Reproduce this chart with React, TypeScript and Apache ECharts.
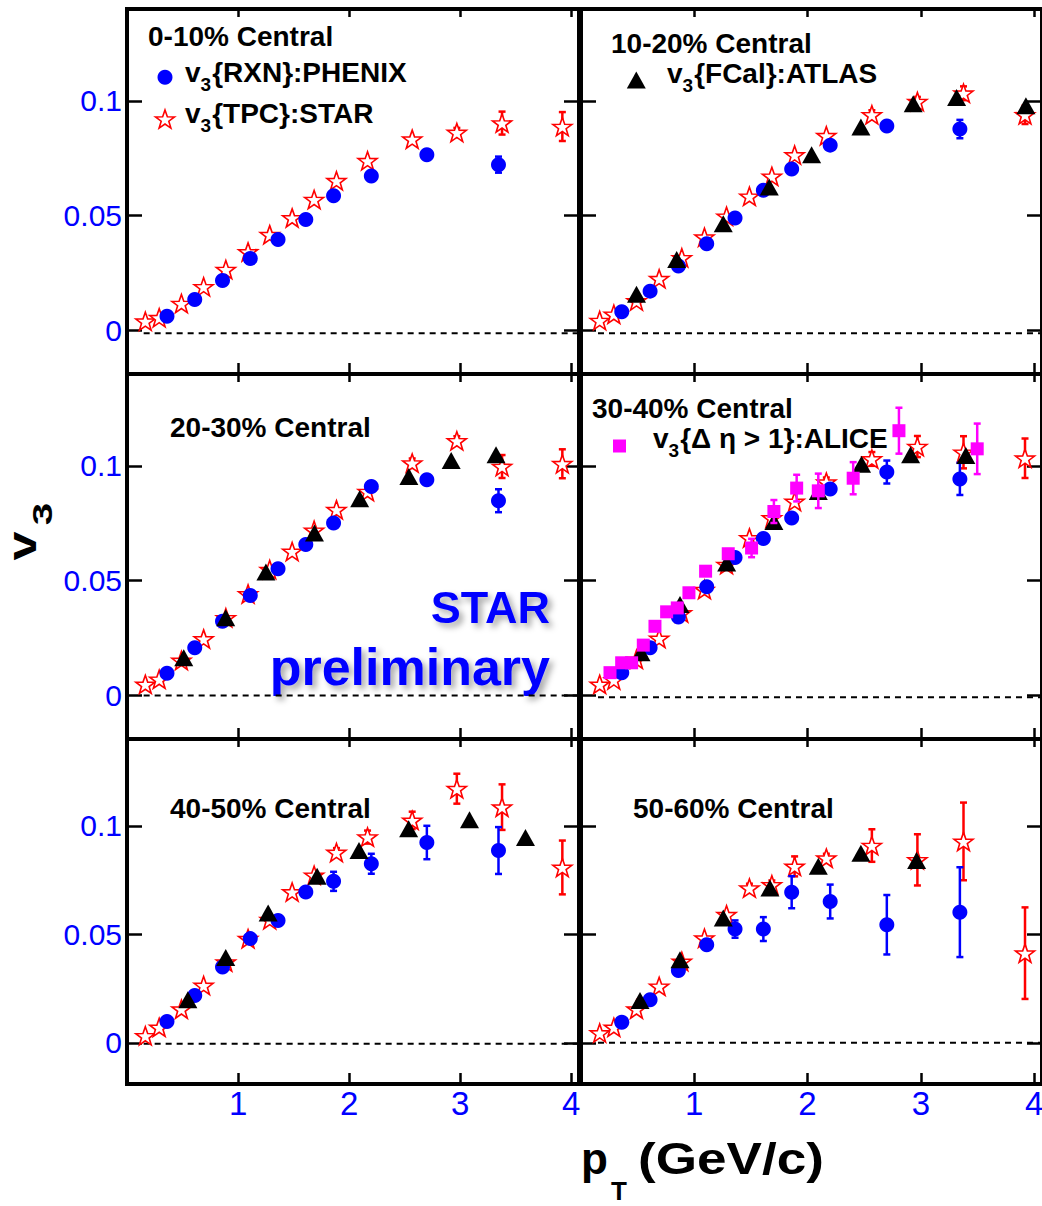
import React, { useEffect, useRef } from "react";
import * as echarts from "echarts";

// ---------------- data ----------------
const CENTRALITY = ["0-10% Central", "10-20% Central", "20-30% Central", "30-40% Central", "40-50% Central", "50-60% Central"];
const X_TICKS = [1, 2, 3, 4];
const Y_TICKS = [0, 0.05, 0.1];
const X_MIN = 0;
const X_MAX = 4.07;
const Y_MIN = -0.019;
const Y_MAX = 0.14;
const ZERO_LINE_X = [0.15, 4.07];
const ZERO_LEVEL = [-0.0012, -0.0012, 0, -0.0008, -0.0004, 0];

// STAR v3{TPC}
const STAR_PT = [0.165, 0.29, 0.49, 0.69, 0.89, 1.09, 1.285, 1.487, 1.685, 1.886, 2.166, 2.568, 2.97, 3.377, 3.92];
const STAR_V = [
  [0.004, 0.0055, 0.0117, 0.019, 0.0265, 0.0342, 0.0417, 0.049, 0.057, 0.0652, 0.0739, 0.0833, 0.0862, 0.0903, 0.0888],
  [0.0043, 0.007, 0.0128, 0.0225, 0.0316, 0.0406, 0.0497, 0.0584, 0.0671, 0.0764, 0.0848, 0.0939, 0.0997, 0.1033, 0.0939],
  [0.0048, 0.007, 0.0152, 0.0246, 0.0338, 0.0442, 0.0548, 0.0627, 0.0719, 0.0809, 0.0888, 0.1012, 0.1109, 0.0997, 0.1009],
  [0.0048, 0.0067, 0.0157, 0.0248, 0.0359, 0.0461, 0.057, 0.0686, 0.0773, 0.0845, 0.0929, 0.103, 0.1084, 0.1059, 0.1033],
  [0.0032, 0.0071, 0.0155, 0.0264, 0.0372, 0.048, 0.0567, 0.0695, 0.0772, 0.0877, 0.0948, 0.1025, 0.1171, 0.1086, 0.0808],
  [0.0045, 0.0071, 0.0155, 0.026, 0.0375, 0.0482, 0.059, 0.0713, 0.0728, 0.0813, 0.0851, 0.0909, 0.0843, 0.0928, 0.0413],
];
const STAR_ERR = [
  [0, 0, 0, 0, 0, 0, 0, 0, 0, 0, 0, 0, 0.002, 0.005, 0.0063],
  [0, 0, 0, 0, 0, 0, 0, 0, 0, 0, 0, 0.002, 0.002, 0.003, 0.004],
  [0, 0, 0, 0, 0, 0, 0, 0, 0, 0, 0, 0.002, 0.002, 0.005, 0.0063],
  [0, 0, 0, 0, 0, 0, 0, 0, 0, 0, 0.002, 0.003, 0.0046, 0.007, 0.0086],
  [0, 0, 0, 0, 0, 0, 0, 0, 0, 0.002, 0.003, 0.004, 0.0069, 0.0105, 0.0124],
  [0, 0, 0, 0, 0, 0, 0, 0.002, 0.002, 0.0046, 0.002, 0.0075, 0.0118, 0.0179, 0.0211],
];

// PHENIX v3{RXN}
const PHENIX_PT = [0.36, 0.61, 0.86, 1.11, 1.36, 1.61, 1.86, 2.2, 2.7, 3.345];
const PHENIX_V = [
  [0.0062, 0.0135, 0.0217, 0.0313, 0.0396, 0.0483, 0.0587, 0.0672, 0.0765, 0.0722],
  [0.0081, 0.0171, 0.028, 0.0377, 0.049, 0.061, 0.0703, 0.0807, 0.089, 0.0877],
  [0.0096, 0.0207, 0.0323, 0.0435, 0.0552, 0.0657, 0.0751, 0.091, 0.0939, 0.0848],
  [0.0099, 0.0207, 0.0341, 0.0473, 0.0601, 0.0683, 0.0773, 0.0899, 0.0973, 0.0943],
  [0.0098, 0.0218, 0.0349, 0.048, 0.0564, 0.0695, 0.0744, 0.0825, 0.0923, 0.0886],
  [0.0095, 0.0198, 0.0333, 0.0452, 0.0524, 0.0524, 0.0694, 0.0651, 0.0544, 0.0602],
];
const PHENIX_ERR = [
  [0, 0, 0, 0, 0, 0, 0, 0, 0.001, 0.0035],
  [0, 0, 0, 0, 0, 0, 0, 0, 0.001, 0.004],
  [0, 0, 0, 0, 0, 0, 0, 0, 0.001, 0.005],
  [0, 0, 0, 0, 0, 0, 0, 0, 0.005, 0.007],
  [0, 0, 0, 0, 0, 0, 0.0044, 0.0046, 0.0077, 0.0108],
  [0, 0, 0, 0, 0.004, 0.0055, 0.0074, 0.0078, 0.0137, 0.0207],
];

// ATLAS v3{FCal} (none for 0-10%)
const ATLAS_PT = [
  [],
  [0.49, 0.845, 1.256, 1.662, 2.036, 2.471, 2.933, 3.316, 3.928],
  [0.511, 0.889, 1.251, 1.688, 2.095, 2.538, 2.919, 3.323],
  [0.53, 0.874, 1.286, 1.703, 2.095, 2.477, 2.91, 3.398],
  [0.548, 0.889, 1.271, 1.712, 2.089, 2.536, 3.084, 3.588],
  [0.521, 0.874, 1.256, 1.668, 2.095, 2.471, 2.963],
];
const ATLAS_V = [
  [],
  [0.0157, 0.0309, 0.0465, 0.0625, 0.0765, 0.0886, 0.0987, 0.1014, 0.0978],
  [0.0164, 0.0338, 0.0538, 0.0707, 0.0857, 0.0954, 0.1023, 0.1048],
  [0.0186, 0.0396, 0.0577, 0.0758, 0.0888, 0.1007, 0.1048, 0.1045],
  [0.0198, 0.0393, 0.0598, 0.0767, 0.0886, 0.0986, 0.1028, 0.0946],
  [0.0195, 0.0383, 0.0575, 0.0713, 0.0813, 0.0874, 0.084],
];

// ALICE v3{Δη>1} (30-40% only)
const ALICE_PANEL = 3;
const ALICE_PT = [0.256, 0.359, 0.447, 0.55, 0.653, 0.756, 0.85, 0.953, 1.1, 1.3, 1.506, 1.703, 1.904, 2.095, 2.403, 2.807, 3.498];
const ALICE_V = [0.0099, 0.0142, 0.0142, 0.0219, 0.0301, 0.0364, 0.0381, 0.0447, 0.0541, 0.0617, 0.0642, 0.0801, 0.0903, 0.0891, 0.0946, 0.1153, 0.1074];
const ALICE_ERR = [0, 0, 0, 0, 0, 0, 0, 0, 0, 0.002, 0.004, 0.005, 0.0058, 0.0075, 0.007, 0.01, 0.011];

// ---------------- styling / layout ----------------
const FONT = "'Liberation Sans', Arial, Helvetica, sans-serif";
const NARROW = "'Liberation Sans Narrow', 'Arial Narrow', 'Liberation Sans', sans-serif";
const BLUE = "#0000ff";
const RED = "#ff0000";
const MAGENTA = "#ff00ff";
const GRID_LEFT = [127, 581];
const GRID_W = [452, 461];
const ROW_TOP = [9, 374, 739];
const ROW_H = [365, 365, 345];

function starPts(cx: number, cy: number, R: number, r: number): number[][] {
  const pts: number[][] = [];
  for (let k = 0; k < 10; k++) {
    const a = -Math.PI / 2 + (k * Math.PI) / 5;
    const rad = k % 2 === 0 ? R : r;
    pts.push([cx + rad * Math.cos(a), cy + rad * Math.sin(a)]);
  }
  return pts;
}
const STAR_PATH =
  "path://" +
  starPts(0, 0, 100, 40)
    .map((p, i) => (i === 0 ? "M" : "L") + p[0].toFixed(2) + "," + p[1].toFixed(2))
    .join(" ") +
  " Z";

let measureCtx: CanvasRenderingContext2D | null = null;
function measure(text: string, font: string): number {
  if (!measureCtx) measureCtx = document.createElement("canvas").getContext("2d");
  measureCtx!.font = font;
  return measureCtx!.measureText(text).width;
}

function errSeries(i: number, pts: number[], vals: number[], errs: number[], color: string, z: number) {
  const data: number[][] = [];
  pts.forEach((x, k) => {
    if (errs[k] > 0) data.push([x, vals[k] - errs[k], vals[k] + errs[k]]);
  });
  return {
    type: "custom",
    xAxisIndex: 2 * i,
    yAxisIndex: 2 * i,
    z,
    silent: true,
    data,
    encode: { x: 0, y: [1, 2] },
    renderItem: (_p: any, api: any) => {
      const x = api.value(0);
      const a = api.coord([x, api.value(1)]);
      const b = api.coord([x, api.value(2)]);
      const cw = 3.5;
      const st = { stroke: color, lineWidth: 2.5 };
      return {
        type: "group",
        children: [
          { type: "line", shape: { x1: a[0], y1: a[1], x2: b[0], y2: b[1] }, style: st },
          { type: "line", shape: { x1: a[0] - cw, y1: a[1], x2: a[0] + cw, y2: a[1] }, style: st },
          { type: "line", shape: { x1: b[0] - cw, y1: b[1], x2: b[0] + cw, y2: b[1] }, style: st },
        ],
      };
    },
  };
}

function subLabel(x: number, yMid: number, rest: string): any[] {
  const size = 28;
  const subSize = 19;
  const wv = measure("v", `bold ${size}px ${FONT}`);
  const ws = measure("3", `bold ${subSize}px ${FONT}`);
  const base = { fontFamily: FONT, fontWeight: "bold", fill: "#000", align: "left", verticalAlign: "middle" };
  return [
    { type: "text", x, y: yMid, style: { ...base, text: "v", fontSize: size } },
    { type: "text", x: x + wv, y: yMid + 12.3, style: { ...base, text: "3", fontSize: subSize } },
    { type: "text", x: x + wv + ws + 1, y: yMid, style: { ...base, text: rest, fontSize: size } },
  ];
}

function buildOption() {
  const grid: any[] = [];
  const xAxis: any[] = [];
  const yAxis: any[] = [];
  const series: any[] = [];
  const tickStyle = { color: "#000", width: 2.5 };

  for (let i = 0; i < 6; i++) {
    const col = i % 2;
    const row = Math.floor(i / 2);
    grid.push({
      left: GRID_LEFT[col],
      top: ROW_TOP[row],
      width: GRID_W[col],
      height: ROW_H[row],
      show: true,
      borderColor: "#000",
      borderWidth: 4,
      backgroundColor: "transparent",
      containLabel: false,
      outerBoundsMode: "none",
    });
    for (const pos of ["bottom", "top"]) {
      xAxis.push({
        type: "value",
        gridIndex: i,
        position: pos,
        min: X_MIN,
        max: X_MAX,
        axisLine: { show: false, onZero: false },
        axisTick: { show: true, inside: true, length: pos === "bottom" ? 11 : 8, customValues: X_TICKS, lineStyle: tickStyle },
        axisLabel: {
          show: pos === "bottom" && row === 2,
          customValues: X_TICKS,
          color: BLUE,
          fontFamily: NARROW,
          fontSize: 33,
          margin: 3,
        },
        splitLine: { show: false },
      });
    }
    for (const pos of ["left", "right"]) {
      yAxis.push({
        type: "value",
        gridIndex: i,
        position: pos,
        min: Y_MIN,
        max: Y_MAX,
        axisLine: { show: false, onZero: false },
        axisTick: { show: true, inside: true, length: 15, customValues: Y_TICKS, lineStyle: tickStyle },
        axisLabel: {
          show: pos === "left" && col === 0,
          customValues: Y_TICKS,
          color: BLUE,
          fontFamily: FONT,
          fontSize: 30,
          margin: 5,
          formatter: (v: number) => (v === 0 ? "0" : String(+v.toFixed(3))),
        },
        splitLine: { show: false },
      });
    }
    const ax = { xAxisIndex: 2 * i, yAxisIndex: 2 * i };

    series.push({
      type: "line",
      ...ax,
      z: 1,
      silent: true,
      symbol: "none",
      data: ZERO_LINE_X.map((x) => [x, ZERO_LEVEL[i]]),
      lineStyle: { color: "#000", width: 2, type: [6, 5] },
    });

    series.push(errSeries(i, STAR_PT, STAR_V[i], STAR_ERR[i], RED, 2));
    series.push({
      type: "scatter",
      name: "STAR",
      ...ax,
      z: 3,
      symbol: STAR_PATH,
      symbolKeepAspect: true,
      symbolSize: 19,
      itemStyle: { color: "#ffffff", borderColor: RED, borderWidth: 1.6, opacity: 1 },
      data: STAR_PT.map((x, k) => [x, STAR_V[i][k]]),
    });

    series.push(errSeries(i, PHENIX_PT, PHENIX_V[i], PHENIX_ERR[i], BLUE, 4));
    series.push({
      type: "scatter",
      name: "PHENIX",
      ...ax,
      z: 5,
      symbol: "circle",
      symbolSize: 15,
      itemStyle: { color: BLUE, opacity: 1 },
      data: PHENIX_PT.map((x, k) => [x, PHENIX_V[i][k]]),
    });

    if (ATLAS_PT[i].length) {
      series.push({
        type: "scatter",
        name: "ATLAS",
        ...ax,
        z: 6,
        symbol: "triangle",
        symbolSize: [19, 17],
        itemStyle: { color: "#000", opacity: 1 },
        data: ATLAS_PT[i].map((x, k) => [x, ATLAS_V[i][k]]),
      });
    }

    if (i === ALICE_PANEL) {
      series.push(errSeries(i, ALICE_PT, ALICE_V, ALICE_ERR, MAGENTA, 7));
      series.push({
        type: "scatter",
        name: "ALICE",
        ...ax,
        z: 8,
        symbol: "rect",
        symbolSize: 13,
        itemStyle: { color: MAGENTA, opacity: 1 },
        data: ALICE_PT.map((x, k) => [x, ALICE_V[k]]),
      });
    }
  }

  const labelPos = [
    [148, 36.5],
    [611, 43.5],
    [170, 427],
    [592, 408.5],
    [170, 808],
    [633, 808],
  ];
  const bold = { fontFamily: FONT, fontWeight: "bold", fill: "#000", align: "left", verticalAlign: "middle" };
  const graphic: any[] = [];
  CENTRALITY.forEach((t, i) => {
    graphic.push({ type: "text", x: labelPos[i][0], y: labelPos[i][1], style: { ...bold, text: t, fontSize: 28 } });
  });

  // legend glyphs + labels
  graphic.push({ type: "circle", shape: { cx: 165, cy: 77.3, r: 7.5 }, style: { fill: BLUE } });
  graphic.push(...subLabel(185, 72, "{RXN}:PHENIX"));
  graphic.push({
    type: "polygon",
    shape: { points: starPts(165, 120, 10, 4) },
    style: { fill: "#fff", stroke: RED, lineWidth: 1.6 },
  });
  graphic.push(...subLabel(185, 113.5, "{TPC}:STAR"));
  graphic.push({
    type: "polygon",
    shape: { points: [[636.3, 71.5], [645.8, 88.5], [626.8, 88.5]] },
    style: { fill: "#000" },
  });
  graphic.push(...subLabel(667, 73.5, "{FCal}:ATLAS"));
  graphic.push({ type: "rect", shape: { x: 613, y: 439.5, width: 13, height: 13 }, style: { fill: MAGENTA } });
  graphic.push(...subLabel(653, 438.5, "{Δ η > 1}:ALICE"));

  // STAR preliminary
  const shadow = { textShadowColor: "rgba(0,0,0,0.35)", textShadowBlur: 6, textShadowOffsetX: 4, textShadowOffsetY: 4 };
  graphic.push({
    type: "text",
    x: 550,
    y: 607.5,
    style: { ...bold, ...shadow, text: "STAR", fontSize: 45, fill: BLUE, align: "right" },
  });
  graphic.push({
    type: "text",
    x: 550,
    y: 667,
    style: { ...bold, ...shadow, text: "preliminary", fontSize: 52, fill: BLUE, align: "right" },
  });

  // y title: v_3 (rotated)
  graphic.push({
    type: "text",
    x: 22,
    y: 546,
    rotation: Math.PI / 2,
    scaleX: 1.3,
    style: { ...bold, text: "v", fontSize: 40, align: "center" },
  });
  graphic.push({
    type: "text",
    x: 43,
    y: 514,
    rotation: Math.PI / 2,
    scaleX: 1.5,
    style: { ...bold, text: "3", fontSize: 27, align: "center" },
  });

  // x title: p_T (GeV/c)
  graphic.push({ type: "text", x: 581, y: 1158, style: { ...bold, text: "p", fontSize: 44 } });
  graphic.push({ type: "text", x: 611, y: 1191, style: { ...bold, text: "T", fontSize: 26 } });
  graphic.push({ type: "text", x: 638, y: 1158, scaleX: 1.18, style: { ...bold, text: "(GeV/c)", fontSize: 45 } });

  return {
    animation: false,
    backgroundColor: "#ffffff",
    grid,
    xAxis,
    yAxis,
    series,
    graphic,
  };
}

export default function App() {
  const ref = useRef<HTMLDivElement>(null);
  useEffect(() => {
    if (!ref.current) return;
    const chart = echarts.init(ref.current, undefined, { renderer: "svg" });
    chart.setOption(buildOption() as any);
    return () => chart.dispose();
  }, []);
  return (
    <div
      ref={ref}
      style={{ position: "absolute", left: 0, top: 0, width: 1042, height: 1206, background: "#fff" }}
    />
  );
}
